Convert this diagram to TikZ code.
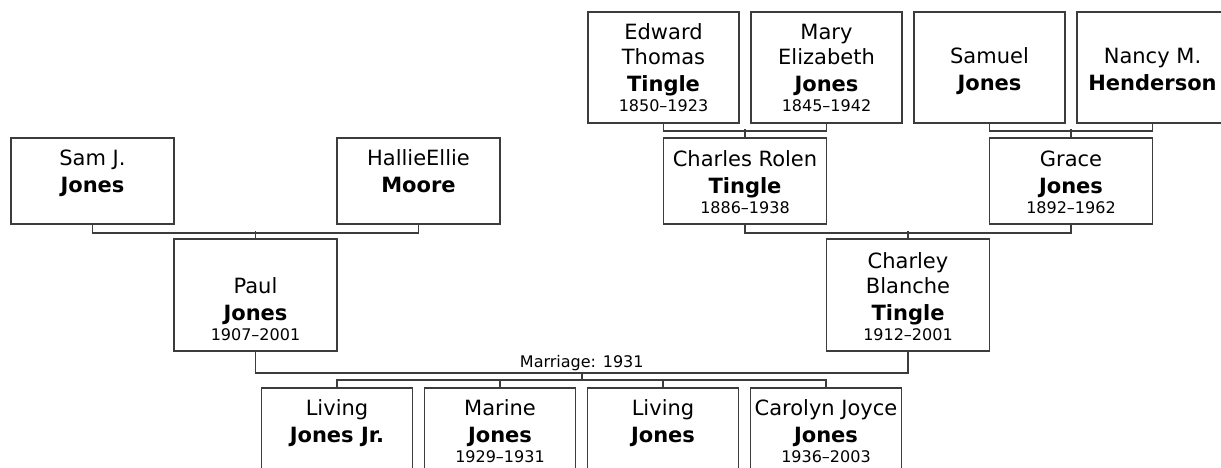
\documentclass[tikz,border=0pt]{standalone}
\usepackage{fontspec}
\setmainfont{DejaVu Sans}
\definecolor{linecol}{RGB}{60,60,60}
\newcommand\pdates[1]{{\fontsize{16}{20}\selectfont #1}}
\begin{document}
\begin{tikzpicture}[x=1pt,y=-1pt,
  box/.style={draw=linecol, line width=1.6pt, rectangle, inner sep=0pt},
  wbox/.style={box, minimum width=151pt, minimum height=111pt},
  sbox/.style={box, minimum width=163pt, minimum height=86pt},
  tbox/.style={box, minimum width=163pt, minimum height=112pt},
  txt/.style={align=center, anchor=base, inner sep=0pt, font=\fontsize{21}{25}\selectfont},
  mlabel/.style={anchor=base, inner sep=0pt, font=\fontsize{16}{20}\selectfont},
  conn/.style={draw=linecol, line width=1.6pt}
]
\useasboundingbox (0,0) rectangle (1221,468);
\clip (0,0) rectangle (1221,468);

% top row
\node[wbox] (edward) at (663.5,67.5) {};
\node[wbox] (mary) at (826.5,67.5) {};
\node[wbox] (samuel) at (989.5,67.5) {};
\node[wbox] (nancy) at (1152.5,67.5) {};
\node[txt] (edward-t) at (663.5,112) {Edward\\Thomas\\[2pt]\textbf{Tingle}\\[-5pt]\pdates{1850–1923}};
\node[txt] (mary-t) at (826.5,112) {Mary\\Elizabeth\\[2pt]\textbf{Jones}\\[-5pt]\pdates{1845–1942}};
\node[txt] (samuel-t) at (989.5,91) {Samuel\\[2pt]\textbf{Jones}};
\node[txt] (nancy-t) at (1152.5,91) {Nancy M.\\[2pt]\textbf{Henderson}};

% second row
\node[sbox] (sam) at (92.5,181) {};
\node[sbox] (hallie) at (418.5,181) {};
\node[sbox] (charles) at (745,181) {};
\node[sbox] (grace) at (1071,181) {};
\node[txt] (sam-t) at (92.5,193) {Sam J.\\[2pt]\textbf{Jones}};
\node[txt] (hallie-t) at (418.5,193) {HallieEllie\\[2pt]\textbf{Moore}};
\node[txt] (charles-t) at (745,213) {Charles Rolen\\[2pt]\textbf{Tingle}\\[-5pt]\pdates{1886–1938}};
\node[txt] (grace-t) at (1071,213) {Grace\\[2pt]\textbf{Jones}\\[-5pt]\pdates{1892–1962}};

% third row
\node[tbox] (paul) at (255.5,295) {};
\node[tbox] (charley) at (908,295) {};
\node[txt] (paul-t) at (255.5,340) {Paul\\[2pt]\textbf{Jones}\\[-5pt]\pdates{1907–2001}};
\node[txt] (charley-t) at (908,340) {Charley\\Blanche\\[2pt]\textbf{Tingle}\\[-5pt]\pdates{1912–2001}};

% children
\node[wbox] (c1) at (337,443.5) {};
\node[wbox] (c2) at (500,443.5) {};
\node[wbox] (c3) at (663,443.5) {};
\node[wbox] (c4) at (826,443.5) {};
\node[txt] (c1-t) at (337,442) {Living\\[2pt]\textbf{Jones Jr.}};
\node[txt] (c2-t) at (500,462) {Marine\\[2pt]\textbf{Jones}\\[-5pt]\pdates{1929–1931}};
\node[txt] (c3-t) at (663,442) {Living\\[2pt]\textbf{Jones}};
\node[txt] (c4-t) at (826,462) {Carolyn Joyce\\[2pt]\textbf{Jones}\\[-5pt]\pdates{1936–2003}};

% connectors
\draw[conn] (edward.south) -- ++(0,7) -| (mary.south);
\draw[conn] (charles.north) -- ++(0,-8);
\draw[conn] (samuel.south) -- ++(0,7) -| (nancy.south);
\draw[conn] (grace.north) -- ++(0,-8);
\draw[conn] (sam.south) -- ++(0,8) -| (hallie.south);
\draw[conn] (paul.north) -- ++(0,-7);
\draw[conn] (charles.south) -- ++(0,8) -| (grace.south);
\draw[conn] (charley.north) -- ++(0,-7);
\draw[conn] (paul.south) -- ++(0,21) -| (charley.south);
\node[mlabel] (marriage) at (581.75,367) {Marriage: 1931};
\coordinate (mid) at (581.75,372);
\draw[conn] (mid) -- ++(0,9);
\draw[conn] (c1.north) -- ++(0,-7) -| (c4.north);
\draw[conn] (c2.north) -- ++(0,-7);
\draw[conn] (c3.north) -- ++(0,-7);
\end{tikzpicture}
\end{document}
